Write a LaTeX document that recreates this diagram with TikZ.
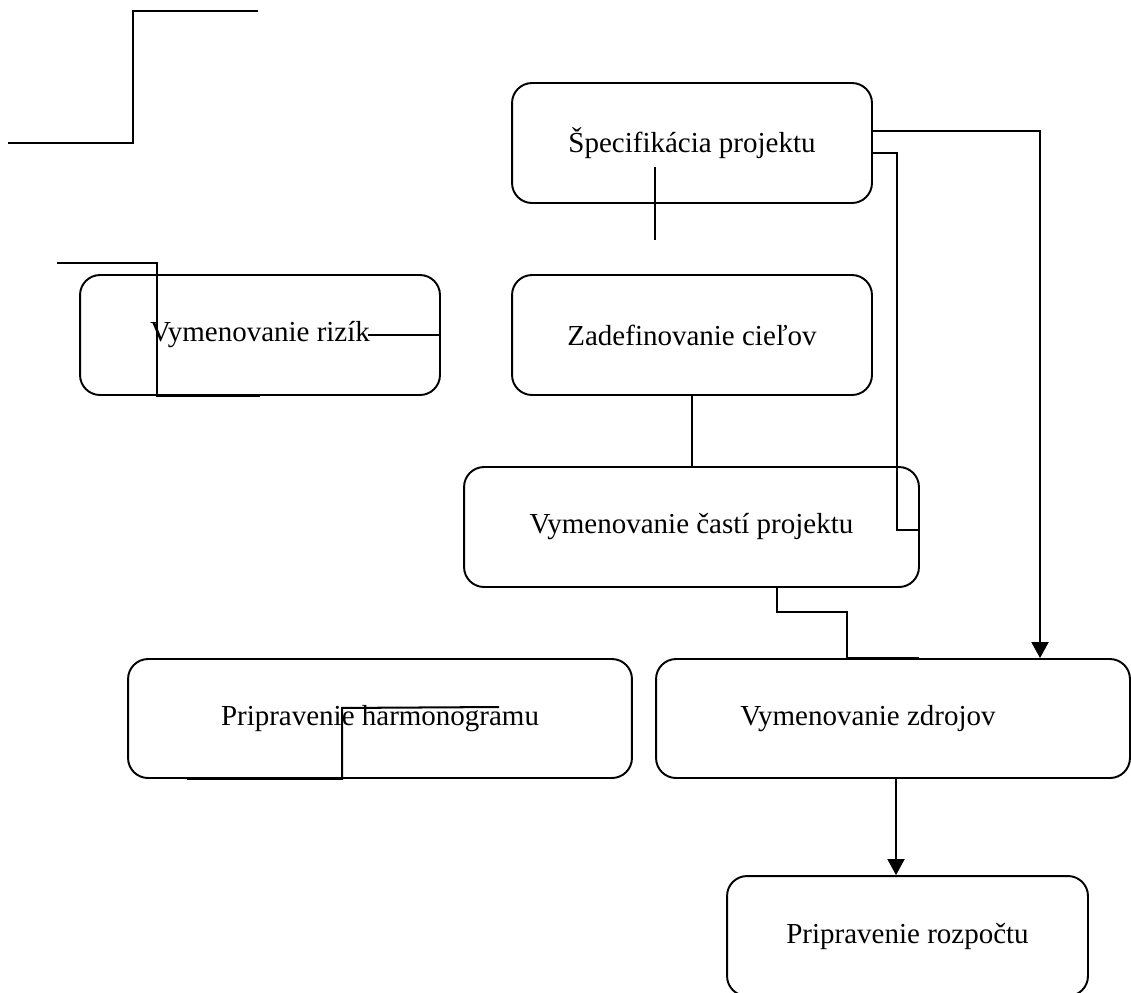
\documentclass[tikz,border=0pt]{standalone}
\usepackage{fontspec}
\setmainfont{Liberation Serif}
\usetikzlibrary{arrows.meta, calc}

\begin{document}
\begin{tikzpicture}[x=0.02cm, y=-0.02cm,
            % ----- Styles -----
                box/.style={
                    rectangle, draw=black, line width=1.1pt,
                    rounded corners=0.4cm, inner sep=0pt,
                    minimum width=7.2cm, minimum height=2.4cm,
                    text centered, font=\fontsize{16.5}{20}\selectfont
                },
                ln/.style={line width=1.15pt},
                arr/.style={ln, -{Triangle[length=0.32cm, width=0.34cm]}}
            ]
                \useasboundingbox (0,0) rectangle (1131,992);

% ===================== Kroky (Boxy) ============================
                \node[box] (spec)     at (692,   143)   {Špecifikácia projektu};
                \node[box] (ciele)    at (692,   335)   {Zadefinovanie cieľov};
                \node[box] (rizika)   at (260,   335)   {Vymenovanie rizík};
                \node[box, minimum width=9.1cm]
                           (casti)    at (691.5, 527)   {Vymenovanie častí projektu};
                \node[box, minimum width=10.08cm, minimum height=2.38cm]
                           (harmo)    at (380,   718.5) {Pripravenie harmonogramu};
                \node[box, minimum width=9.48cm, minimum height=2.38cm,
                      label={[xshift=-0.5cm, font=\fontsize{16.5}{20}\selectfont]center:Vymenovanie zdrojov}]
                           (zdroje)   at (893,   718.5) {};
                \node[box, minimum width=7.22cm]
                           (rozpocet) at (907.5, 936)   {Pripravenie rozpočtu};

% ===================== Volne konce =============================
                \coordinate (hore1)   at (8,   143);
                \coordinate (hore2)   at (258, 11);
                \coordinate (rizIn)   at (57,  263);
                \coordinate (rizTxt)  at (368, 335);
                \coordinate (specA)   at (655, 167);
                \coordinate (specB)   at (655, 240);
                \coordinate (harmoEnd) at (499, 707);

% ===================== Spojnice ================================
                \draw[ln] (hore1) -- (133,143) -- (133,11) -- (hore2);

                \draw[ln] (rizIn) -| ($(rizika.south)+(-103,0)$) -- (rizika.south);
                \draw[ln] (rizTxt) -- (rizTxt -| rizika.east);

                \draw[ln] (specA) -- (specB);

                \draw[ln] (ciele.south) -- (ciele.south |- casti.north);

% Specifikacia -> casti, zdroje
                \coordinate (specOut1) at ($(spec.east)+(0,-12)$);
                \coordinate (specOut2) at ($(spec.east)+(0,10)$);
                \draw[arr] (specOut1) -| ($(zdroje.north)+(147,0)$);
                \draw[ln] (specOut2) -| ($(casti.east)+(-23,3)$) -- ($(casti.east)+(0,3)$);

% Casti -> zdroje
                \draw[ln] ($(casti.south)+(85.5,0)$) -- ++(0,24)
                    -| ($(zdroje.north west)+(192,0)$) -- ++(72,0);

% Harmonogram
                \draw[ln] ($(harmo.south west)+(60,0)$) -- ++(155,0)
                    -- ++(0,-71) -- (harmoEnd);

% Zdroje -> rozpocet
                \coordinate (zdrOut) at ($(zdroje.south)+(3,0)$);
                \draw[arr] (zdrOut) -- (zdrOut |- rozpocet.north);

\end{tikzpicture}
\end{document}
